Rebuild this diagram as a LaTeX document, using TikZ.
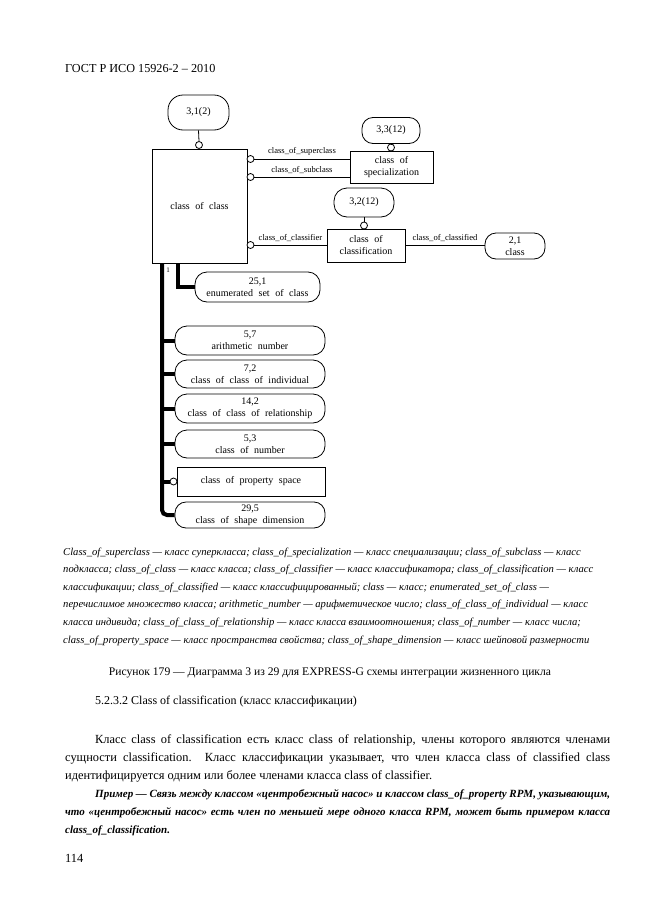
\documentclass[tikz,border=0pt]{standalone}
\usepackage{fontspec}
\setmainfont{Liberation Serif}
\newcommand{\dgmfont}{\fontsize{10}{12}\selectfont\spaceskip=0.55em plus 0.1em minus 0.05em\relax}
\newcommand{\relfont}{\fontsize{8.6}{10}\selectfont}
\newcommand{\legfont}{\fontsize{10.6}{13}\selectfont\itshape}
\newcommand{\bodyfont}{\fontsize{12.4}{14}\selectfont}
\begin{document}
\begin{tikzpicture}[x=1pt,y=-1pt,
  pill/.style={draw, line width=0.8pt, rounded corners=12pt, align=center, inner sep=0pt, font=\dgmfont},
  box/.style={draw, line width=0.8pt, align=center, inner sep=0pt, font=\dgmfont},
  ring/.style={draw, circle, line width=0.8pt, fill=white, minimum size=7pt, inner sep=0pt},
  ln/.style={line width=0.8pt},
  bus/.style={line width=4pt},
  rel/.style={font=\relfont, inner sep=0pt},
  txt/.style={inner sep=0pt, anchor=base west}]
\useasboundingbox (0,0) rectangle (661,913);
\fill[white] (0,0) rectangle (661,913);

% header
\node[txt, font=\fontsize{12.2}{14}\selectfont] (hdr) at (65,72) {ГОСТ Р ИСО 15926-2 -- 2010};

% diagram nodes
\node[pill, minimum width=61pt, minimum height=35pt, rounded corners=15pt] (r31) at (198.5,112.5) {3,1(2)};
\node[box, minimum width=95pt, minimum height=114pt] (coc) at (199.5,206) {class of class};
\node[ring] (c1) at (199,145) {};
\node[ring] (c2) at (250.5,159) {};
\node[ring] (c3) at (250.5,177) {};
\node[ring] (c4) at (250.5,245) {};

\node[box, minimum width=83pt, minimum height=32pt] (spec) at (391.5,167) {class of\\specialization};
\node[pill, minimum width=58pt, minimum height=26pt, rounded corners=11pt] (r33) at (391,130.5) {3,3(12)};
\node[ring] (c5) at (391,147.5) {};

\node[box, minimum width=78pt, minimum height=33pt] (ccl) at (366,245.5) {class of\\classification};
\node[pill, minimum width=60pt, minimum height=29pt, rounded corners=13pt] (r32) at (364,202.5) {3,2(12)};
\node[ring] (c6) at (364,225.5) {};

\node[pill, minimum width=60pt, minimum height=26pt, rounded corners=11pt] (r21) at (515,246) {2,1\\class};

% connectors (top part)
\draw[ln] (r31.south) -- (c1.north);
\draw[ln] (r33.south) -- (c5.north);
\draw[ln] (r32.south) -- (c6.north);
\draw[ln] (c2.east) -- (c2.east -| spec.west) node[rel, midway, above=3pt] (l1) {class\_of\_superclass};
\draw[ln] (c3.east) -- (c3.east -| spec.west) node[rel, midway, above=3pt] (l2) {class\_of\_subclass};
\draw[ln] (c4.east) -- (c4.east -| ccl.west) node[rel, midway, above=3pt] (l3) {class\_of\_classifier};
\draw[ln] (ccl.east |- c4) -- (r21.west |- c4) node[rel, midway, above=3pt] (l4) {class\_of\_classified};

% subtype nodes
\node[pill, minimum width=125pt, minimum height=30pt] (en) at (257.5,287) {25,1\\enumerated set of class};
\node[pill, minimum width=150pt, minimum height=29pt] (an) at (250,340.5) {5,7\\arithmetic number};
\node[pill, minimum width=150pt, minimum height=28pt] (ci) at (250,374) {7,2\\class of class of individual};
\node[pill, minimum width=150pt, minimum height=29pt] (cr) at (250,408.5) {14,2\\class of class of relationship};
\node[pill, minimum width=150pt, minimum height=28pt] (cn) at (250,444) {5,3\\class of number};
\node[box, minimum width=148pt, minimum height=29pt] (ps) at (251,481.5) {class of property space};
\node[ring] (cps) at (173.5,481.5) {};
\node[pill, minimum width=150pt, minimum height=26pt, rounded corners=11pt] (sd) at (250,515) {29,5\\class of shape dimension};

% buses
\coordinate (b0) at (162,263);
\coordinate (b2) at (178,263);
\draw[bus, rounded corners=5pt] (b0) -- (b0 |- sd.west) -- (sd.west);
\draw[bus] (b2) |- (en.west);
\draw[bus] (an.west -| b0) -- (an.west);
\draw[bus] (ci.west -| b0) -- (ci.west);
\draw[bus] (cr.west -| b0) -- (cr.west);
\draw[bus] (cn.west -| b0) -- (cn.west);
\draw[bus] (cps.west -| b0) -- (cps.west);
\node[font=\fontsize{7}{8}\selectfont, inner sep=0pt] (one) at (168,270) {1};

% legend
\node[txt, font=\legfont] (g1) at (63,555) {Class\_of\_superclass — класс суперкласса; class\_of\_specialization — класс специализации; class\_of\_subclass — класс};
\node[txt, font=\legfont] (g2) at (63,572.6) {подкласса; class\_of\_class — класс класса; class\_of\_classifier — класс классификатора; class\_of\_classification — класс};
\node[txt, font=\legfont] (g3) at (63,590.2) {классификации; class\_of\_classified — класс классифицированный; class — класс; enumerated\_set\_of\_class —};
\node[txt, font=\legfont] (g4) at (63,607.8) {перечислимое множество класса; arithmetic\_number — арифметическое число; class\_of\_class\_of\_individual — класс};
\node[txt, font=\legfont] (g5) at (63,625.4) {класса индивида; class\_of\_class\_of\_relationship — класс класса взаимоотношения; class\_of\_number — класс числа;};
\node[txt, font=\legfont] (g6) at (63,643) {class\_of\_property\_space — класс пространства свойства; class\_of\_shape\_dimension — класс шейповой размерности};

% caption
\node[inner sep=0pt, anchor=base, font=\fontsize{11.6}{14}\selectfont] (cap) at (330,675) {Рисунок 179 — Диаграмма 3 из 29 для EXPRESS-G схемы интеграции жизненного цикла};

% heading and body
\node[txt, font=\fontsize{12}{14}\selectfont] (hd) at (95,704) {5.2.3.2 Class of classification (класс классификации)};
\node[txt, font=\bodyfont] (p1) at (95,743) {\makebox[515pt][s]{Класс class of classification есть класс class of relationship, члены которого являются членами}};
\node[txt, font=\bodyfont] (p2) at (65,761) {\makebox[545pt][s]{сущности classification. Класс классификации указывает, что член класса class of classified class}};
\node[txt, font=\bodyfont] (p3) at (65,779) {идентифицируется одним или более членами класса class of classifier.};
\node[txt, font=\fontsize{11}{13}\selectfont\bfseries\itshape] (p4) at (95,797) {\makebox[515pt][s]{Пример — Связь между классом «центробежный насос» и классом class\_of\_property RPM, указывающим,}};
\node[txt, font=\fontsize{11}{13}\selectfont\bfseries\itshape] (p5) at (65,815) {\makebox[545pt][s]{что «центробежный насос» есть член по меньшей мере одного класса RPM, может быть примером класса}};
\node[txt, font=\fontsize{11}{13}\selectfont\bfseries\itshape] (p6) at (65,833) {class\_of\_classification.};
\node[txt, font=\bodyfont] (pg) at (65,862) {114};
\end{tikzpicture}
\end{document}
